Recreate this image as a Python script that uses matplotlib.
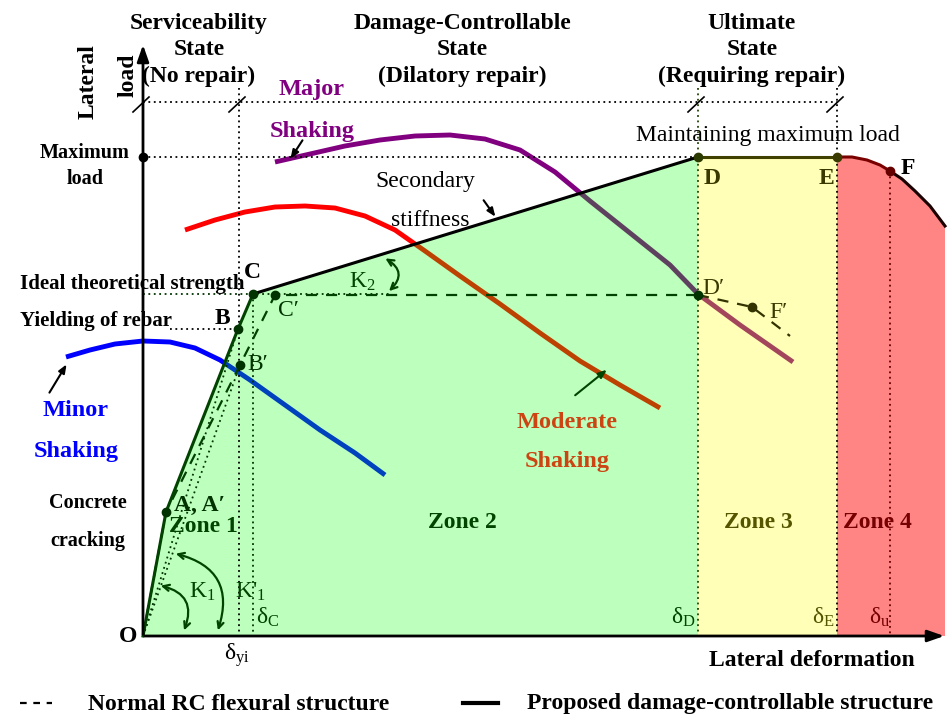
import numpy as np
import matplotlib.pyplot as plt
from matplotlib.patches import Polygon

plt.rcParams['font.family'] = ['Liberation Serif', 'DejaVu Serif']
plt.rcParams['mathtext.fontset'] = 'custom'
plt.rcParams['mathtext.rm'] = 'Liberation Serif'
plt.rcParams['mathtext.it'] = 'Liberation Serif:italic'

# diagram units: pixel-like coordinates, y grows downwards
O = (143, 636)
main_x = [143, 166, 238, 253, 698, 837]
main_y = [636, 512, 329, 294, 157, 157]
tail_x = [837, 852, 867, 880, 890, 902, 915, 930, 945]
tail_y = [157, 157, 160, 165, 171, 179, 191, 206, 226]
normal_x = [143, 166, 240, 275, 698, 752, 790]
normal_y = [636, 512, 365, 295, 295, 307, 336]

minor_x = [66, 90, 115, 143, 170, 195, 220, 250, 285, 320, 355, 385]
minor_y = [357, 350, 344, 341, 342, 348, 360, 380, 405, 430, 453, 475]
moderate_x = [185, 215, 245, 275, 305, 335, 365, 395, 425, 460, 500, 540, 580, 620, 660]
moderate_y = [230, 220, 212, 207, 206, 208, 216, 230, 251, 276, 304, 333, 361, 385, 408]
major_x = [275, 310, 345, 380, 415, 450, 485, 520, 555, 590, 630, 670, 698, 740, 793]
major_y = [162, 154, 146, 140, 136, 135, 139, 150, 172, 201, 233, 265, 294, 325, 362]

delta_yi, delta_c, delta_d, delta_e, delta_u = 239, 253, 698, 837, 890

fig = plt.figure(figsize=(9.52, 7.19), dpi=100)
ax = fig.add_axes([0, 0, 1, 1])
ax.set_xlim(0, 952)
ax.set_ylim(719, 0)
ax.axis('off')

# shaking curves (under the zones)
ax.plot(minor_x, minor_y, color='#0000ff', lw=3.5, zorder=1, solid_capstyle='butt')
ax.plot(moderate_x, moderate_y, color='#ff0000', lw=3.5, zorder=1, solid_capstyle='butt')
ax.plot(major_x, major_y, color='#800080', lw=3.5, zorder=1, solid_capstyle='butt')

# zones
green = list(zip(main_x[:5], main_y[:5])) + [(698, 636)]
ax.add_patch(Polygon(green, closed=True, fc='#00ff00', alpha=0.26, lw=0, zorder=2))
ax.add_patch(Polygon([(698, 157), (837, 157), (837, 636), (698, 636)], closed=True,
                     fc='#ffff00', alpha=0.28, lw=0, zorder=2))
red = list(zip(tail_x, tail_y)) + [(945, 636), (837, 636)]
ax.add_patch(Polygon(red, closed=True, fc='#ff0000', alpha=0.48, lw=0, zorder=2))

# dotted guide lines
dot = dict(ls=(0, (1, 2)), lw=1.3, zorder=3)
ax.plot([143, 837], [102, 102], color='k', **dot)
ax.plot([143, 698], [157, 157], color='k', **dot)
ax.plot([170, 238], [329, 329], color='k', **dot)
ax.plot([143, 390], [294, 294], color='#003300', **dot)
ax.plot([delta_yi, delta_yi], [88, 636], color='k', **dot)
ax.plot([delta_c, delta_c], [294, 636], color='#003300', **dot)
ax.plot([delta_d, delta_d], [88, 636], color='#224400', **dot)
ax.plot([delta_e, delta_e], [88, 636], color='k', **dot)
ax.plot([delta_u, delta_u], [171, 636], color='#660000', **dot)
ax.plot([143, 238], [636, 329], color='#003300', **dot)
ax.plot([143, 240], [636, 365], color='#003300', **dot)

# slash marks on the top line
for sx in [143, 239, 698, 837]:
    ax.plot([sx - 10, sx + 6], [112, 97], color='k', lw=1.2, zorder=4)

# normal RC (dashed)
ax.plot(normal_x[:5], normal_y[:5], color='#004000', lw=1.6, ls=(0, (5, 4)), zorder=4)
ax.plot(normal_x[4:], normal_y[4:], color='#333300', lw=1.6, ls=(0, (5, 4)), zorder=4)

# proposed structure (solid)
ax.plot(main_x[:4], main_y[:4], color='#004400', lw=2.2, zorder=5)
ax.plot(main_x[3:5], main_y[3:5], color='k', lw=2.2, zorder=5)
ax.plot(main_x[4:], main_y[4:], color='#404000', lw=2.2, zorder=5)
ax.plot(tail_x[:5], tail_y[:5], color='#7a0000', lw=2.2, zorder=5)
ax.plot(tail_x[4:], tail_y[4:], color='#1a0000', lw=2.2, zorder=5)

# points
pts = [((143, 157), 'k'), ((166, 512), '#003300'), ((238, 329), '#003300'),
       ((253, 294), '#003300'), ((240, 365), '#003300'), ((275, 295), '#003300'),
       ((698, 157), '#2b3a00'), ((837, 157), '#3a3a00'), ((698, 295), '#003300'),
       ((752, 307), '#333300'), ((890, 171), '#660000')]
for (px, py), c in pts:
    ax.plot(px, py, 'o', color=c, ms=6, zorder=6)

# axes arrows
ax.annotate('', xy=(143, 42), xytext=(143, 637), zorder=6,
            arrowprops=dict(arrowstyle='-|>,head_length=1.0,head_width=0.35', color='k', lw=2))
ax.annotate('', xy=(947, 636), xytext=(142, 636), zorder=6,
            arrowprops=dict(arrowstyle='-|>,head_length=1.0,head_width=0.35', color='k', lw=2))

# titles
title_kw = dict(ha='center', va='center', fontsize=17, fontweight='bold', linespacing=1.36)
ax.text(199, 50, 'Serviceability\nState\n(No repair)', **title_kw)
ax.text(462, 50, 'Damage-Controllable\nState\n(Dilatory repair)', **title_kw)
ax.text(752, 50, 'Ultimate\nState\n(Requiring repair)', **title_kw)

# y-axis side labels
ax.text(88, 82, 'Lateral', rotation=90, ha='center', va='center', fontsize=17, fontweight='bold')
ax.text(128, 75, 'load', rotation=90, ha='center', va='center', fontsize=17, fontweight='bold')
lab = dict(fontsize=14.5, fontweight='bold')
ax.text(85, 166, 'Maximum\nload', ha='center', va='center', linespacing=1.45, **lab)
ax.text(20, 284, 'Ideal theoretical strength', ha='left', va='center', fontsize=15, fontweight='bold')
ax.text(20, 321, 'Yielding of rebar', ha='left', va='center', fontsize=15, fontweight='bold')
ax.text(88, 522, 'Concrete\n\ncracking', ha='center', va='center', linespacing=0.95, **lab)
ax.text(128, 636, 'O', ha='center', va='center', fontsize=17, fontweight='bold')

# point labels
ax.text(200, 505, 'A, A\u2032', ha='center', va='center', fontsize=17, fontweight='bold', color='#003300')
ax.text(222, 319, 'B', ha='center', va='center', fontsize=17, fontweight='bold')
ax.text(252, 273, 'C', ha='center', va='center', fontsize=17, fontweight='bold')
ax.text(288, 310, 'C\u2032', ha='center', va='center', fontsize=17, color='#003300')
ax.text(258, 365, 'B\u2032', ha='center', va='center', fontsize=17, color='#003300')
ax.text(712, 178, 'D', ha='center', va='center', fontsize=17, fontweight='bold', color='#3a3a00')
ax.text(826, 178, 'E', ha='center', va='center', fontsize=17, fontweight='bold', color='#3a3a00')
ax.text(908, 169, 'F', ha='center', va='center', fontsize=17, fontweight='bold')
ax.text(713, 288, 'D\u2032', ha='center', va='center', fontsize=17, color='#3a3a00')
ax.text(778, 312, 'F\u2032', ha='center', va='center', fontsize=17, color='#3a3a00')
ax.text(768, 135, 'Maintaining maximum load', ha='center', va='center', fontsize=17)

# zones
zone_kw = dict(ha='center', va='center', fontsize=17, fontweight='bold')
ax.text(203, 526, 'Zone 1', color='#004400', **zone_kw)
ax.text(462, 522, 'Zone 2', color='#004400', **zone_kw)
ax.text(758, 522, 'Zone 3', color='#555500', **zone_kw)
ax.text(877, 522, 'Zone 4', color='#770000', **zone_kw)

# deformation markers
ax.text(237, 655, '\u03b4$_{\\mathrm{yi}}$', ha='center', va='center', fontsize=17)
ax.text(268, 617, '\u03b4$_{\\mathrm{C}}$', ha='center', va='center', fontsize=17, color='#004400')
ax.text(683, 617, '\u03b4$_{\\mathrm{D}}$', ha='center', va='center', fontsize=17, color='#004400')
ax.text(823, 617, '\u03b4$_{\\mathrm{E}}$', ha='center', va='center', fontsize=17, color='#555500')
ax.text(880, 617, '\u03b4$_{\\mathrm{u}}$', ha='center', va='center', fontsize=17, color='#770000')

# stiffness arcs
arc = dict(arrowstyle='<->,head_length=0.45,head_width=0.22', color='#004400', lw=1.6)
ax.annotate('', xy=(183, 633), xytext=(158, 585), zorder=6,
            arrowprops=dict(connectionstyle='arc3,rad=-0.6', **arc))
ax.text(202, 592, 'K$_1$', ha='center', va='center', fontsize=17, color='#004400')
ax.annotate('', xy=(217, 633), xytext=(173, 553), zorder=6,
            arrowprops=dict(connectionstyle='arc3,rad=-0.55', **arc))
ax.text(250, 592, "K$'_1$", ha='center', va='center', fontsize=17, color='#004400')
ax.annotate('', xy=(387, 293), xytext=(383, 257), zorder=6,
            arrowprops=dict(connectionstyle='arc3,rad=-0.7', **arc))
ax.text(362, 282, 'K$_2$', ha='center', va='center', fontsize=17, color='#004400')

# secondary stiffness
ax.text(425, 182, 'Secondary', ha='center', va='center', fontsize=17)
ax.text(430, 220, 'stiffness', ha='center', va='center', fontsize=17)
ax.annotate('', xy=(497, 219), xytext=(482, 198), zorder=6,
            arrowprops=dict(arrowstyle='-|>,head_length=0.5,head_width=0.2', color='k', lw=1.5))

# shaking labels
shake_kw = dict(ha='center', va='center', fontsize=17.5, fontweight='bold')
ax.text(76, 410, 'Minor', color='#0000ff', **shake_kw)
ax.text(76, 452, 'Shaking', color='#0000ff', **shake_kw)
ax.annotate('', xy=(68, 362), xytext=(48, 395), zorder=6,
            arrowprops=dict(arrowstyle='-|>,head_length=0.5,head_width=0.2', color='k', lw=1.5))
ax.text(567, 422, 'Moderate', color='#cc4411', **shake_kw)
ax.text(567, 462, 'Shaking', color='#cc4411', **shake_kw)
ax.annotate('', xy=(609, 368), xytext=(573, 397), zorder=6,
            arrowprops=dict(arrowstyle='-|>,head_length=0.5,head_width=0.2', color='#004400', lw=1.5))
ax.text(312, 90, 'Major', color='#800080', **shake_kw)
ax.text(312, 131, 'Shaking', color='#800080', **shake_kw)
ax.annotate('', xy=(289, 161), xytext=(304, 138), zorder=6,
            arrowprops=dict(arrowstyle='-|>,head_length=0.5,head_width=0.2', color='k', lw=1.5))

# axis title
ax.text(812, 660, 'Lateral deformation', ha='center', va='center', fontsize=17, fontweight='bold')

# legend
ax.plot([20, 52], [703, 703], color='k', lw=1.6, ls=(0, (3, 3)))
ax.text(88, 704, 'Normal RC flexural structure', ha='left', va='center', fontsize=17, fontweight='bold')
ax.plot([463, 498], [703, 703], color='k', lw=3)
ax.text(527, 704, 'Proposed damage-controllable structure', ha='left', va='center',
        fontsize=17, fontweight='bold')

fig.savefig('out.png', dpi=100)
